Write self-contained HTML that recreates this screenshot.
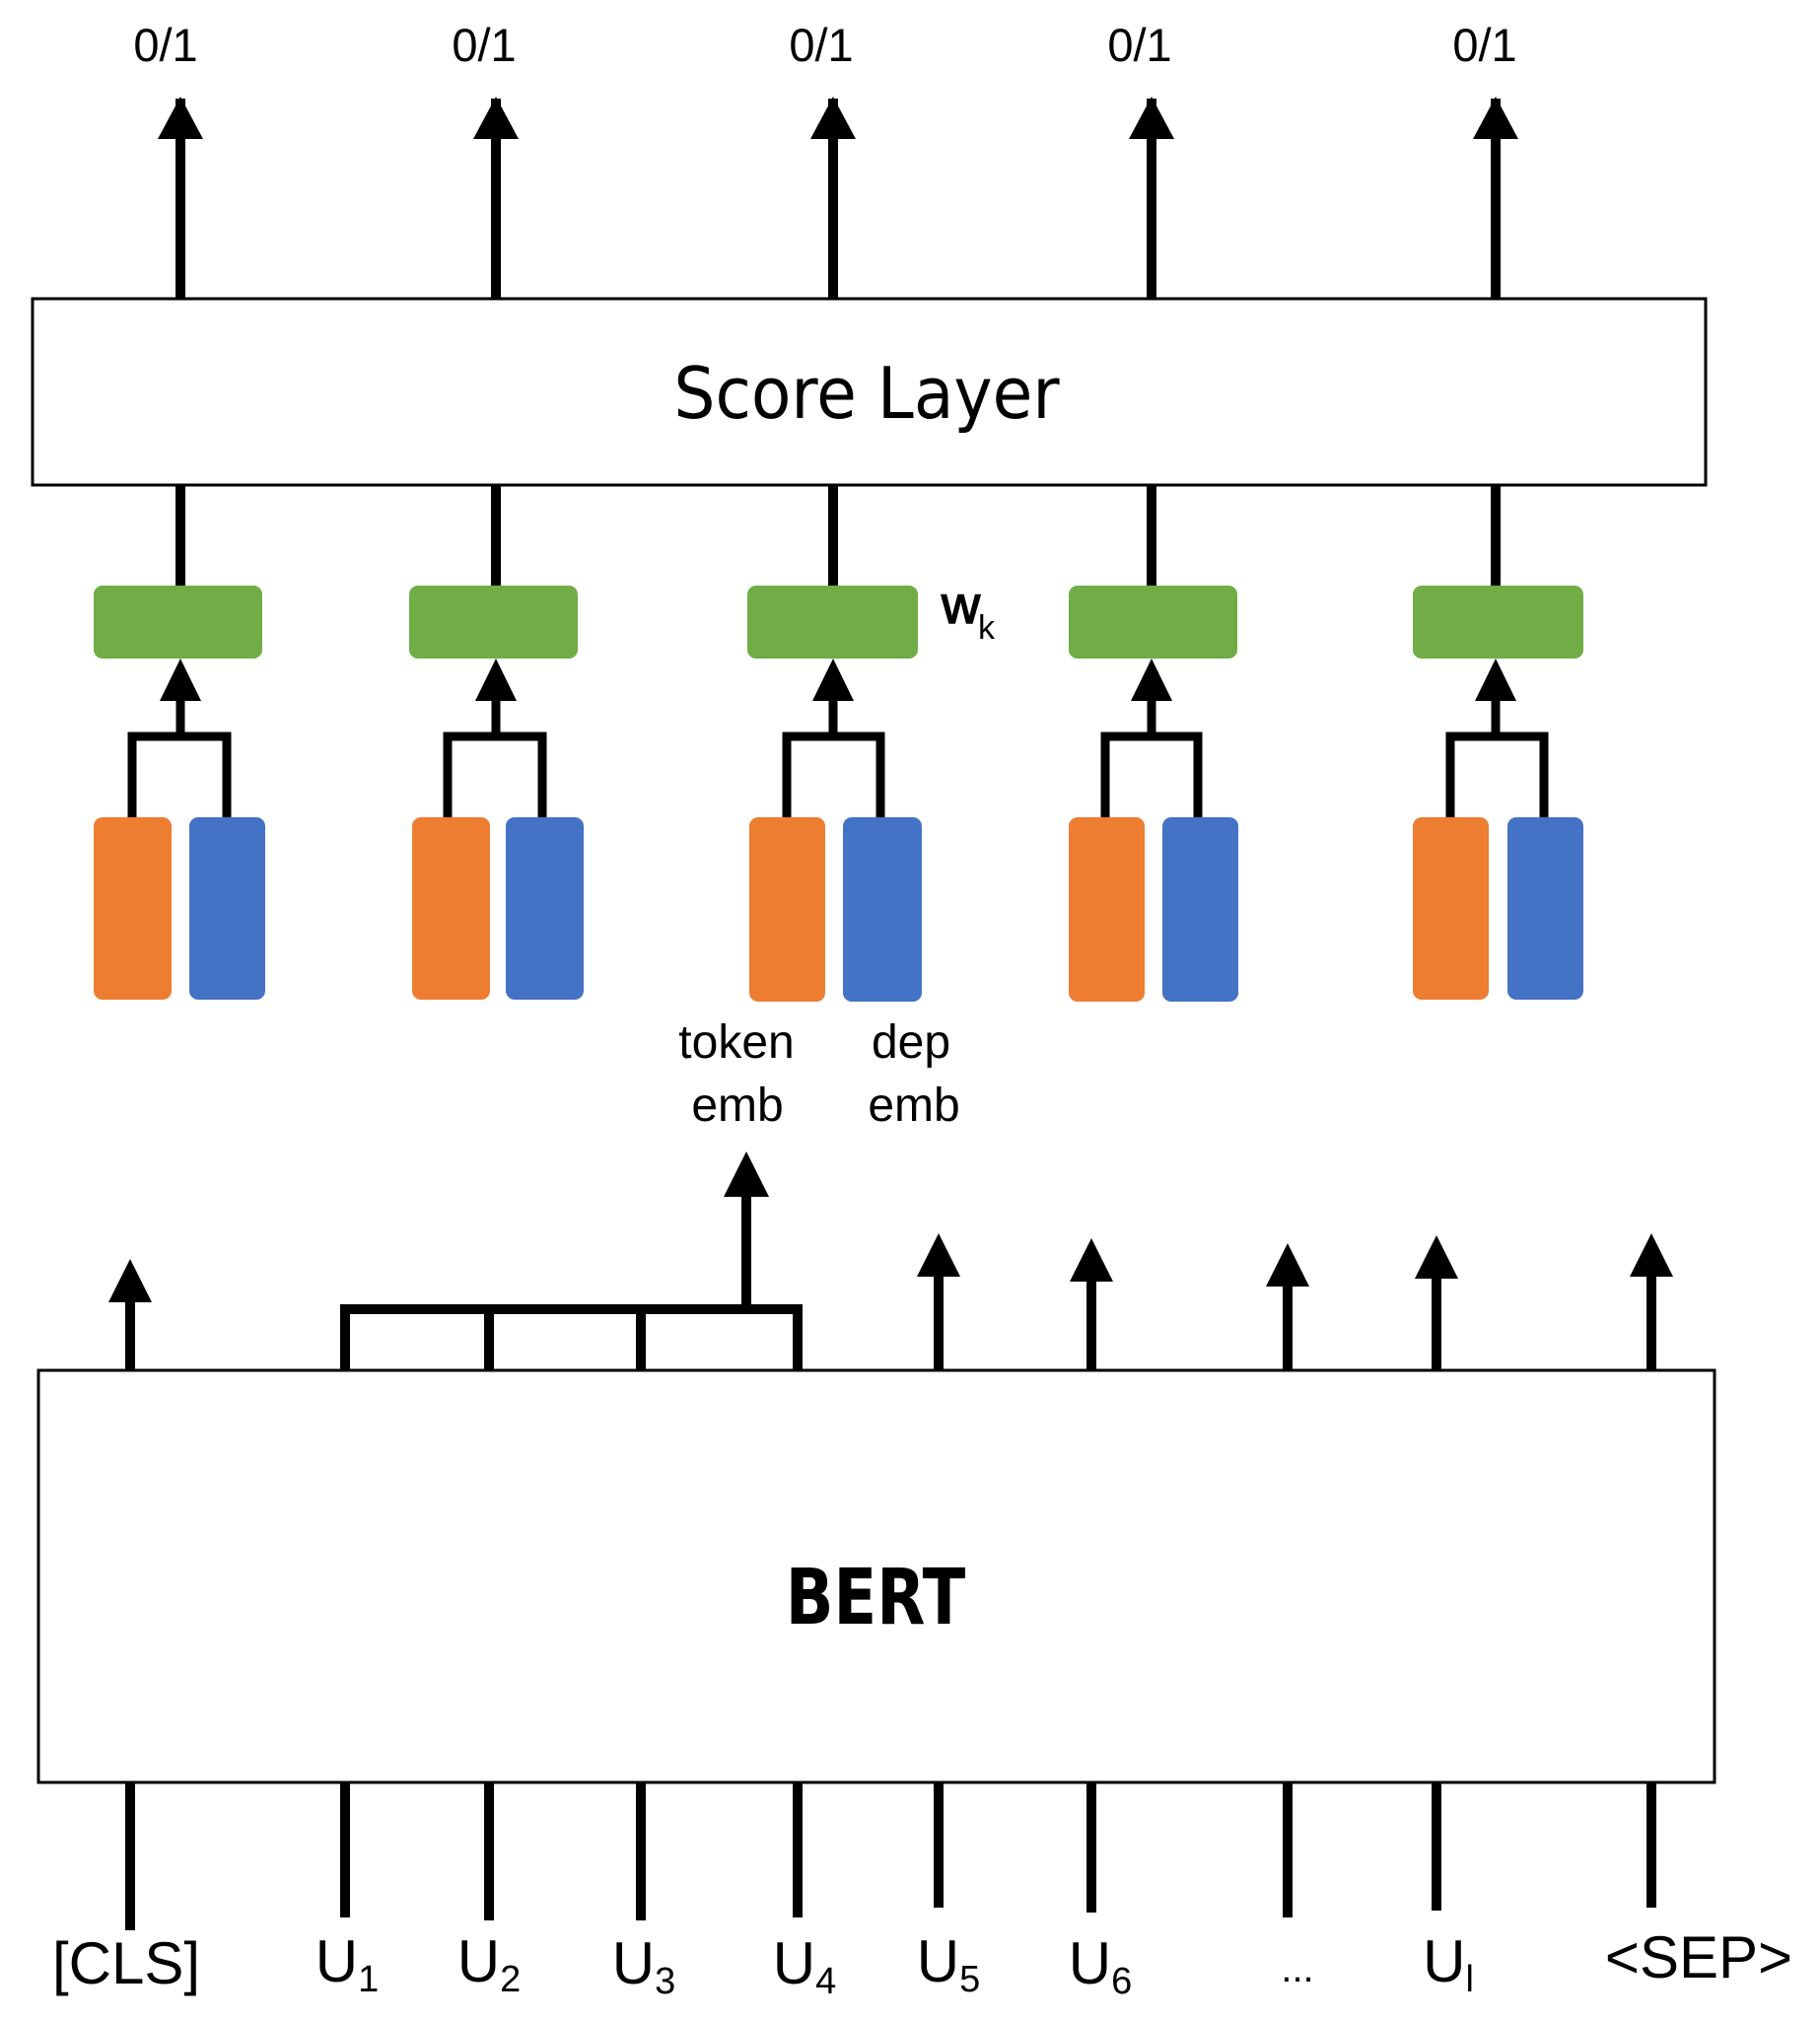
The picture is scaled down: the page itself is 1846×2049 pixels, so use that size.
<!DOCTYPE html><html><head><style>body{margin:0;background:#fff}</style></head><body>
<svg width="1846" height="2044" viewBox="0 0 1846 2044" xmlns="http://www.w3.org/2000/svg" font-family="Liberation Sans, sans-serif">
<g fill="#000" font-size="47" text-anchor="middle">
<text x="168" y="62">0/1</text><text x="491" y="62">0/1</text><text x="833" y="62">0/1</text><text x="1156" y="62">0/1</text><text x="1506" y="62">0/1</text>
</g>
<g stroke="#000" stroke-width="10" fill="none">
<path d="M183,303V100M503,303V100M845,303V100M1168,303V100M1517,303V100" />
</g>
<g fill="#000">
<path d="M183,98l-23,43h46z M503,98l-23,43h46z M845,98l-23,43h46z M1168,98l-23,43h46z M1517,98l-23,43h46z"/>
</g>
<rect x="33" y="303" width="1697" height="189" fill="#fff" stroke="#000" stroke-width="3"/>
<text x="879" y="424" font-size="72" text-anchor="middle" font-family="DejaVu Sans, sans-serif" transform="translate(879 0) scale(0.92 1) translate(-879 0)">Score Layer</text>
<g stroke="#000" stroke-width="10" fill="none">
<path d="M183,492V594M503,492V594M845,492V594M1168,492V594M1517,492V594"/>
</g>
<g fill="#70ad47">
<rect x="95" y="594" width="171" height="74" rx="9"/><rect x="415" y="594" width="171" height="74" rx="9"/><rect x="758" y="594" width="173" height="74" rx="9"/><rect x="1084" y="594" width="171" height="74" rx="9"/><rect x="1433" y="594" width="173" height="74" rx="9"/>
</g>
<text x="955" y="632" font-size="54" stroke="#000" stroke-width="1.5">w</text><text x="992" y="648" font-size="34">k</text>
<g stroke="#000" stroke-width="9" fill="none">
<path d="M183,710V747M134,829V747H230V829"/>
<path d="M503,710V747M454,829V747H550V829"/>
<path d="M845,710V747M798,829V747H893V829"/>
<path d="M1168,710V747M1121,829V747H1215V829"/>
<path d="M1517,710V747M1471,829V747H1566V829"/>
</g>
<g fill="#000">
<path d="M183,668l-21,43h42z M503,668l-21,43h42z M845,668l-21,43h42z M1168,668l-21,43h42z M1517,668l-21,43h42z"/>
</g>
<g fill="#ed7d31">
<rect x="95" y="829" width="79" height="185" rx="9"/><rect x="418" y="829" width="79" height="185" rx="9"/><rect x="760" y="829" width="77" height="187" rx="9"/><rect x="1084" y="829" width="77" height="187" rx="9"/><rect x="1433" y="829" width="77" height="185" rx="9"/>
</g>
<g fill="#4472c4">
<rect x="192" y="829" width="77" height="185" rx="9"/><rect x="513" y="829" width="79" height="185" rx="9"/><rect x="855" y="829" width="80" height="187" rx="9"/><rect x="1179" y="829" width="77" height="187" rx="9"/><rect x="1529" y="829" width="77" height="185" rx="9"/>
</g>
<g font-size="48" text-anchor="middle" fill="#000">
<text x="747" y="1073">token</text><text x="748" y="1137">emb</text><text x="924" y="1073">dep</text><text x="927" y="1137">emb</text>
</g>
<g stroke="#000" stroke-width="10" fill="none">
<path d="M757,1328V1210"/>
<path d="M350,1390V1328H809V1390M496,1328V1390M650,1328V1390"/>
<path d="M132,1390V1315M952,1390V1290M1107,1390V1295M1306,1390V1300M1457,1390V1292M1675,1390V1290"/>
<path d="M132,1808V1958M350,1808V1945M496,1808V1948M650,1808V1948M809,1808V1945M952,1808V1935M1107,1808V1940M1306,1808V1945M1457,1808V1938M1675,1808V1935"/>
</g>
<g fill="#000">
<path d="M757,1168l-23,46h46z M132,1277l-22,44h44z M952,1251l-22,44h44z M1107,1256l-22,44h44z M1306,1261l-22,44h44z M1457,1253l-22,44h44z M1675,1251l-22,44h44z"/>
</g>
<rect x="39" y="1390" width="1700" height="418" fill="#fff" stroke="#000" stroke-width="3"/>
<text x="888" y="1647" font-size="78" font-weight="bold" text-anchor="middle" font-family="DejaVu Sans, sans-serif" transform="translate(888 0) scale(0.82 1) translate(-888 0)">BERT</text>
<g font-size="60" fill="#000" text-anchor="middle">
<text x="128" y="2012">[CLS]</text>
<text x="352" y="2010">U<tspan font-size="38" dy="10">1</tspan></text>
<text x="496" y="2010">U<tspan font-size="38" dy="10">2</tspan></text>
<text x="653" y="2012">U<tspan font-size="38" dy="10">3</tspan></text>
<text x="816" y="2012">U<tspan font-size="38" dy="10">4</tspan></text>
<text x="962" y="2010">U<tspan font-size="38" dy="10">5</tspan></text>
<text x="1116" y="2012">U<tspan font-size="38" dy="10">6</tspan></text>
<text x="1316" y="2010" font-size="40">...</text>
<text x="1469" y="2010">U<tspan font-size="38" dy="10">l</tspan></text>
<text x="1723" y="2006">&lt;SEP&gt;</text>
</g>
</svg>
</body></html>
